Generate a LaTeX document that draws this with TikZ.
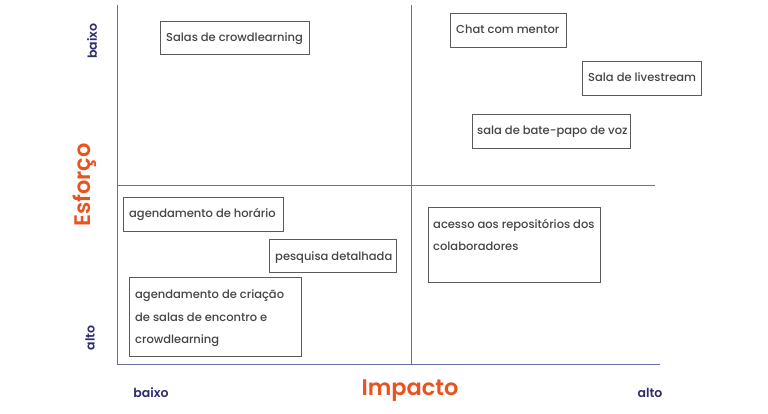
\documentclass[tikz,border=0pt]{standalone}
\usepackage{fontspec}
\setmainfont{Poppins}
\newfontfamily\medfont{Poppins Medium}
\newfontfamily\semifont{Poppins SemiBold}
\definecolor{axisline}{HTML}{6E6E9E}
\definecolor{boxline}{HTML}{5A5A5A}
\definecolor{boxtext}{HTML}{454545}
\definecolor{accent}{HTML}{E8531F}
\definecolor{navy}{HTML}{2F2C6E}
\begin{document}
\begin{tikzpicture}[x=1pt,y=-1pt,
  axis/.style={draw=axisline,line width=0.8pt},
  itembox/.style={draw=boxline,line width=0.9pt},
  itemtext/.style={text=boxtext,font=\medfont\fontsize{11.5}{22.7}\selectfont,inner sep=0pt,anchor=base west},
  biglabel/.style={text=accent,font=\semifont\fontsize{22.5}{26}\selectfont},
  smalllabel/.style={text=navy,font=\semifont\fontsize{12.5}{14}\selectfont}]
\useasboundingbox[fill=white] (0,0) rectangle (768,414);
% axes
\coordinate (tl) at (117,5);
\coordinate (bl) at (117,364);
\coordinate (br) at (660,364);
\coordinate (mt) at (411,5);
\coordinate (mb) at (411,364);
\coordinate (ml) at (117,185);
\coordinate (mr) at (655,185);
\draw[axis] (tl) -- (bl) -- (br);
\draw[axis] (mt) -- (mb);
\draw[axis] (ml) -- (mr);
% boxes
\draw[itembox] (160,21) rectangle (309,54);
\node[itemtext] (b1) at (166,41.5) {Salas de crowdlearning};
\draw[itembox] (450,13) rectangle (566,47);
\node[itemtext] (b2) at (456,34) {Chat com mentor};
\draw[itembox] (582,61) rectangle (701,95);
\node[itemtext] (b3) at (588,82) {Sala de livestream};
\draw[itembox] (472,114) rectangle (630,148);
\node[itemtext] (b4) at (477,135) {sala de bate-papo de voz};
\draw[itembox] (123,197) rectangle (283,231);
\node[itemtext] (b5) at (129,218) {agendamento de horário};
\draw[itembox] (269,239) rectangle (396,272);
\node[itemtext] (b6) at (275,260) {pesquisa detalhada};
\draw[itembox] (129,277) rectangle (301,356);
\node[itemtext] (b7a) at (135,298) {agendamento de criação};
\node[itemtext] (b7b) at (135,321) {de salas de encontro e};
\node[itemtext] (b7c) at (135,343.5) {crowdlearning};
\draw[itembox] (428,207) rectangle (600,282);
\node[itemtext] (b8a) at (433,228) {acesso aos repositórios dos};
\node[itemtext] (b8b) at (433,251) {colaboradores};
% labels
\node[biglabel,rotate=90] (esf) at (85,185) {Esforço};
\node[biglabel] (imp) at (410,391) {Impacto};
\node[smalllabel,rotate=90] (yb) at (92,41) {baixo};
\node[smalllabel,rotate=90] (ya) at (90,338) {alto};
\node[smalllabel] (xb) at (151,393) {baixo};
\node[smalllabel] (xa) at (650,393) {alto};
\end{tikzpicture}
\end{document}
